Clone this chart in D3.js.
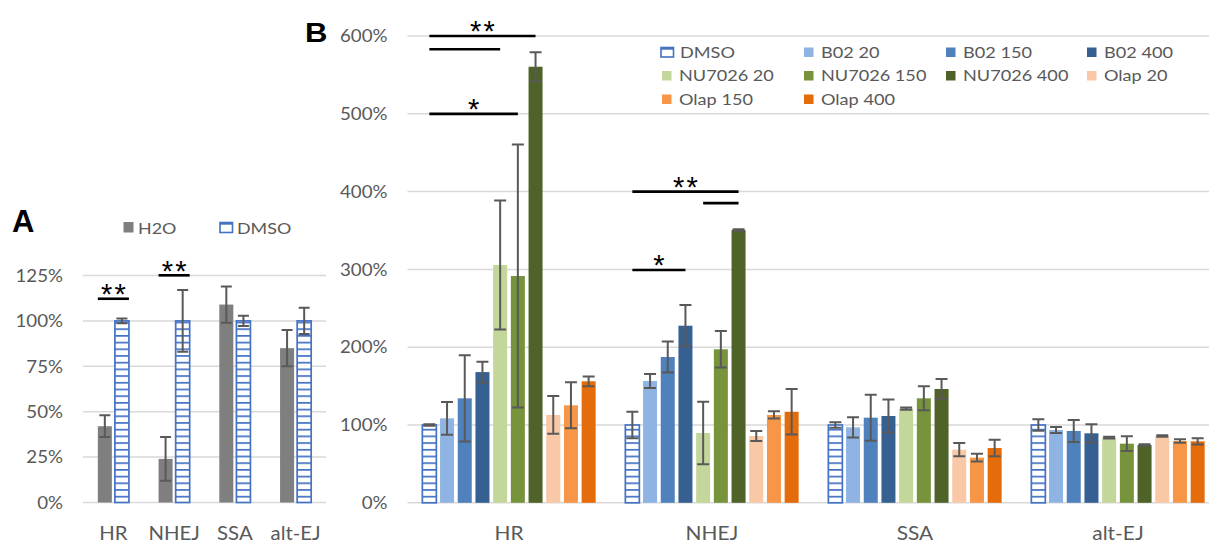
<!DOCTYPE html>
<html><head><meta charset="utf-8">
<script src="https://cdn.jsdelivr.net/npm/d3@7"></script>
<style>html,body{margin:0;padding:0;background:#fff;}svg{display:block;}</style>
</head><body>
<svg id="chart" width="1209" height="543"></svg>
<script>
// ---------------- DATA ----------------
const categories = ["HR", "NHEJ", "SSA", "alt-EJ"];

// Panel A
const seriesA = ["H2O", "DMSO"];
const h2oValues = [42, 24, 109, 85];
const h2oErrors = [6, 12, 10, 10];
const dmsoAValues = [100, 100, 100, 100];
const dmsoAErrors = [1.3, 17, 2.8, 7.2];
const ticksA = [0, 25, 50, 75, 100, 125];

// Panel B
const seriesB = ["DMSO", "B02 20", "B02 150", "B02 400", "NU7026 20", "NU7026 150", "NU7026 400", "Olap 20", "Olap 150", "Olap 400"];
const dmsoB      = [100, 100, 100, 100];
const dmsoBErr   = [1, 17, 3.4, 7.3];
const b02_20     = [108.6, 156.6, 97, 93.6];
const b02_20Err  = [21, 9, 13, 3.8];
const b02_150    = [134.3, 187.4, 109.4, 92.3];
const b02_150Err = [55.5, 20, 29.6, 14];
const b02_400    = [168, 227.6, 111.6, 89.3];
const b02_400Err = [13.3, 26.5, 21.2, 11.8];
const nu_20      = [305.7, 89.7, 121, 83.7];
const nu_20Err   = [83, 40.3, 1.5, 1.2];
const nu_150     = [291.5, 197.3, 134.3, 76];
const nu_150Err  = [169, 23.5, 15.4, 9.5];
const nu_400     = [560.5, 350.6, 146.3, 74.3];
const nu_400Err  = [18.6, 1, 12.7, 1];
const olap_20    = [112.9, 85.9, 68.3, 85.9];
const olap_20Err = [24.3, 6.4, 8.6, 1];
const olap_150   = [125.3, 112.9, 58, 79.4];
const olap_150Err= [29.5, 4.7, 4.9, 2.3];
const olap_400   = [156.2, 117, 70.4, 79];
const olap_400Err= [6.3, 29.2, 10.7, 4];
const ticksB = [0, 100, 200, 300, 400, 500, 600];

// significance brackets: [category, fromSeries, toSeries, level(%), label]
const sigA = [["HR", "H2O", "DMSO", 112.2, "**"], ["NHEJ", "H2O", "DMSO", 125.1, "**"]];
const sigB = [
  ["HR", "DMSO", "NU7026 400", 600, "**"],
  ["HR", "DMSO", "NU7026 20", 583, ""],
  ["HR", "DMSO", "NU7026 150", 500, "*"],
  ["NHEJ", "DMSO", "NU7026 400", 400, "**"],
  ["NHEJ", "NU7026 20", "NU7026 400", 385.3, ""],
  ["NHEJ", "DMSO", "B02 400", 299.2, "*"]
];

// ---------------- STYLE ----------------
const colorsB = ["#4472C4", "#8FB4E3", "#4F81BD", "#366092", "#C4D79B", "#77933C", "#4F6228", "#F9C8A6", "#F79646", "#E46C0A"];
const h2oColor = "#7F7F7F";
const textColor = "#595959";
const gridColor = "#D9D9D9";
const errColor = "#595959";

const svg = d3.select("#chart");
const defs = svg.append("defs");
const pat = defs.append("pattern").attr("id", "dmsoPat").attr("patternUnits", "userSpaceOnUse")
  .attr("width", 40).attr("height", 6.7);
pat.append("rect").attr("width", 40).attr("height", 6.7).attr("fill", "#fff");
pat.append("rect").attr("y", 0).attr("width", 40).attr("height", 1.7).attr("fill", "#4472C4");

function txt(g, x, y, s, o) {
  o = o || {};
  return g.append("text")
    .attr("transform", `translate(${x},${y}) scale(${o.sx || 1.1},1)`)
    .attr("text-anchor", o.anchor || "start")
    .attr("font-family", o.font || "Lato, 'Liberation Sans', sans-serif")
    .attr("font-size", o.size || 17)
    .attr("font-weight", o.weight || "normal")
    .attr("fill", o.fill || textColor)
    .text(s);
}

function stars(g, cx, cy, label) {
  const n = label.length, sp = 13.5;
  for (let i = 0; i < n; i++) {
    const x = cx + (i - (n - 1) / 2) * sp;
    g.append("text").attr("x", x).attr("y", cy + 16)
      .attr("text-anchor", "middle").attr("font-family", "'Liberation Sans', Arial, sans-serif")
      .attr("font-size", 29).attr("fill", "#000").text("*");
  }
}

// ---------------- PANEL A ----------------
const gA = svg.append("g");
const xA = d3.scaleBand().domain(categories).range([83, 326]);
const innerA = d3.scaleBand().domain(seriesA).range([0, 34.2]).paddingInner(0.18).paddingOuter(0.09);
const offA = (xA.bandwidth() - 34.2) / 2;
const yA = d3.scaleLinear().domain([0, 125]).range([502.5, 275.5]);

gA.selectAll("line.grid").data(ticksA).join("line")
  .attr("x1", 83).attr("x2", 326).attr("y1", d => yA(d)).attr("y2", d => yA(d))
  .attr("stroke", gridColor).attr("stroke-width", 1.5);
const axA = d3.axisLeft(yA).tickValues(ticksA).tickFormat(d => d + "%").tickSize(0);
const axAg = gA.append("g").attr("transform", "translate(63,0)").call(axA);
axAg.select(".domain").remove();
axAg.selectAll("text").remove();
ticksA.forEach(t => txt(gA, 63, yA(t) + 6.2, t + "%", {anchor: "end", size: 17, sx: 1.1}));

const dataA = categories.map((c, i) => [
  {cat: c, s: "H2O", v: h2oValues[i], e: h2oErrors[i]},
  {cat: c, s: "DMSO", v: dmsoAValues[i], e: dmsoAErrors[i]}
]).flat();
const bwA = innerA.bandwidth();
gA.selectAll("rect.bar").data(dataA).join("rect")
  .attr("x", d => xA(d.cat) + offA + innerA(d.s))
  .attr("y", d => yA(d.v)).attr("width", bwA).attr("height", d => yA(0) - yA(d.v))
  .attr("fill", d => d.s === "H2O" ? h2oColor : "url(#dmsoPat)")
  .attr("stroke", d => d.s === "H2O" ? "none" : "#4472C4").attr("stroke-width", 1.7);
const cxA = d => xA(d.cat) + offA + innerA(d.s) + bwA / 2;
gA.selectAll("path.err").data(dataA).join("path")
  .attr("d", d => {
    const cx = cxA(d), t = yA(d.v + d.e), b = yA(d.v - d.e), w = 5.5;
    return `M${cx},${t}V${b}M${cx - w},${t}H${cx + w}M${cx - w},${b}H${cx + w}`;
  }).attr("stroke", errColor).attr("stroke-width", 2).attr("fill", "none");
categories.forEach(c => txt(gA, xA(c) + xA.bandwidth() / 2, 540, c, {anchor: "middle", size: 18.5, sx: 1.1}));

sigA.forEach(([c, a, b, lvl, lab]) => {
  const x1 = xA(c) + offA + innerA(a), x2 = xA(c) + offA + innerA(b) + bwA;
  const yy = yA(lvl);
  gA.append("line").attr("x1", x1).attr("x2", x2).attr("y1", yy).attr("y2", yy)
    .attr("stroke", "#000").attr("stroke-width", 2.6);
  if (lab) stars(gA, (x1 + x2) / 2, yy - 10.5, lab);
});

// legend A
gA.append("rect").attr("x", 123.5).attr("y", 222).attr("width", 10).attr("height", 10.5).attr("fill", h2oColor);
txt(gA, 138, 233.5, "H2O", {size: 16, sx: 1.12});
gA.append("rect").attr("x", 220).attr("y", 222.5).attr("width", 12.5).attr("height", 10).attr("fill", "#fff")
  .attr("stroke", "#4472C4").attr("stroke-width", 1.6);
gA.append("rect").attr("x", 220).attr("y", 222.5).attr("width", 12.5).attr("height", 2.2).attr("fill", "#4472C4");
txt(gA, 237, 233.5, "DMSO", {size: 16, sx: 1.12});

txt(gA, 12, 232, "A", {font: "'Liberation Sans', Arial, sans-serif", weight: "bold", size: 31, fill: "#000", sx: 1});

// ---------------- PANEL B ----------------
const gB = svg.append("g");
const valuesB = [dmsoB, b02_20, b02_150, b02_400, nu_20, nu_150, nu_400, olap_20, olap_150, olap_400];
const errorsB = [dmsoBErr, b02_20Err, b02_150Err, b02_400Err, nu_20Err, nu_150Err, nu_400Err, olap_20Err, olap_150Err, olap_400Err];
const xB = d3.scaleBand().domain(categories).range([407.5, 1219.5]);
const groupW = 177;
const innerB = d3.scaleBand().domain(seriesB).range([0, groupW]).paddingInner(0.209).paddingOuter(0.1045);
const offB = (xB.bandwidth() - groupW) / 2;
const yB = d3.scaleLinear().domain([0, 600]).range([502.8, 36]);

gB.selectAll("line.grid").data(ticksB).join("line")
  .attr("x1", 407.5).attr("x2", 1209).attr("y1", d => yB(d)).attr("y2", d => yB(d))
  .attr("stroke", gridColor).attr("stroke-width", 1.5);
ticksB.forEach(t => txt(gB, 387.5, yB(t) + 6.2, t + "%", {anchor: "end", size: 17, sx: 1.1}));

const dataB = [];
categories.forEach((c, i) => seriesB.forEach((s, j) => dataB.push({cat: c, s, j, v: valuesB[j][i], e: errorsB[j][i]})));
const bwB = innerB.bandwidth();
const bxB = d => xB(d.cat) + offB + innerB(d.s);
gB.selectAll("rect.bar").data(dataB).join("rect")
  .attr("x", bxB).attr("y", d => yB(d.v)).attr("width", bwB).attr("height", d => yB(0) - yB(d.v))
  .attr("fill", d => d.j === 0 ? "url(#dmsoPat)" : colorsB[d.j])
  .attr("stroke", d => d.j === 0 ? "#4472C4" : "none").attr("stroke-width", 1.7);
gB.selectAll("path.err").data(dataB).join("path")
  .attr("d", d => {
    const cx = bxB(d) + bwB / 2, t = yB(d.v + d.e), b = yB(d.v - d.e), w = 6;
    return `M${cx},${t}V${b}M${cx - w},${t}H${cx + w}M${cx - w},${b}H${cx + w}`;
  }).attr("stroke", errColor).attr("stroke-width", 2).attr("fill", "none");
categories.forEach(c => txt(gB, xB(c) + xB.bandwidth() / 2, 540, c, {anchor: "middle", size: 18.5, sx: 1.13}));

sigB.forEach(([c, a, b, lvl, lab]) => {
  const x1 = xB(c) + offB + innerB(a) + bwB / 2, x2 = xB(c) + offB + innerB(b) + bwB / 2;
  const yy = yB(lvl);
  gB.append("line").attr("x1", x1).attr("x2", x2).attr("y1", yy).attr("y2", yy)
    .attr("stroke", "#000").attr("stroke-width", 2.7);
  if (lab) stars(gB, (x1 + x2) / 2, yy - 10.8, lab);
});

// legend B
const legCols = [661, 803, 945, 1086];
const legRows = [57.5, 81, 104.5];
seriesB.forEach((s, j) => {
  const cx = legCols[j % 4], by = legRows[Math.floor(j / 4)];
  if (j === 0) {
    gB.append("rect").attr("x", cx).attr("y", by - 10).attr("width", 12.5).attr("height", 9.5).attr("fill", "#fff")
      .attr("stroke", "#4472C4").attr("stroke-width", 1.6);
    gB.append("rect").attr("x", cx).attr("y", by - 10).attr("width", 12.5).attr("height", 2.2).attr("fill", "#4472C4");
    txt(gB, cx + 19, by, s, {size: 15.5, sx: 1.17});
  } else {
    gB.append("rect").attr("x", cx + 1).attr("y", by - 10).attr("width", 9.5).attr("height", 9.5).attr("fill", colorsB[j]);
    txt(gB, cx + 18, by, s, {size: 15.5, sx: 1.17});
  }
});

txt(gB, 305, 41.5, "B", {font: "'Liberation Sans', Arial, sans-serif", weight: "bold", size: 27, fill: "#000", sx: 1.15});
</script>
</body></html>
